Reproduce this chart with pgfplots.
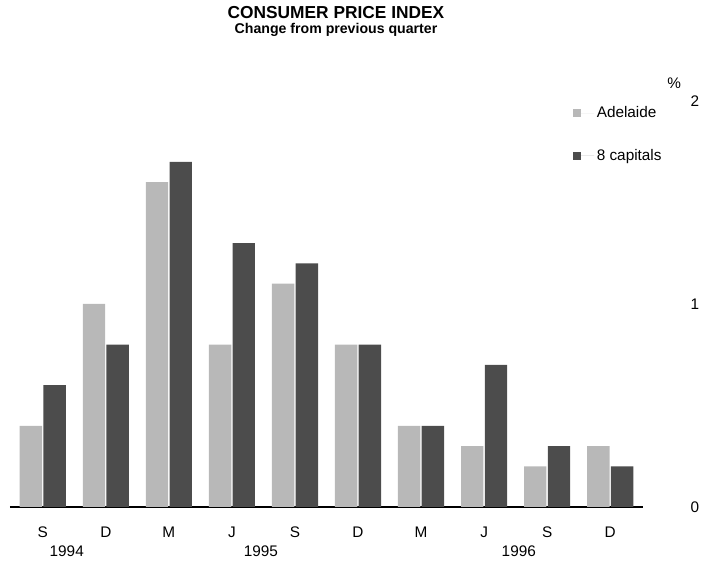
\documentclass[border=0pt]{standalone}
\usepackage{fontspec}
\setmainfont{Liberation Sans}
\usepackage{pgfplots}
\pgfplotsset{compat=1.18}
\definecolor{adel}{gray}{0.72}
\definecolor{caps}{gray}{0.30}
\begin{document}
\begin{tikzpicture}
\begin{axis}[
  scale only axis,
  width=474.75pt, height=304.5pt,
  xmin=-0.52, xmax=9.52, ymin=0, ymax=2,
  ybar=1pt, bar width=16.8pt,
  axis x line=bottom, axis y line*=right,
  y axis line style={draw=none},
  x axis line style={line width=1.2pt, -},
  major tick length=0pt,
  xtick={0,...,9},
  xticklabels={S,D,M,J,S,D,M,J,S,D},
  ytick={0,1,2},
  /pgf/number format/assume math mode=true,
  tick label style={font=\fontsize{11.5}{13}\selectfont},
  xticklabel style={yshift=-11.5pt},
  yticklabel style={anchor=center, xshift=39pt},
  clip=false,
  legend style={at={(rel axis cs:0.883,1.0)}, anchor=north west, draw=none, fill=none,
    font=\fontsize{11.5}{13}\selectfont, row sep=18pt},
  legend cell align=left,
  legend image code/.code={\fill[#1] (0pt,-3pt) rectangle (6pt,3pt); \path (0pt,0pt) -- (15.7pt,0pt);},
]
\addplot[fill=adel, draw=none] coordinates {(0,0.4) (1,1.0) (2,1.6) (3,0.8) (4,1.1) (5,0.8) (6,0.4) (7,0.3) (8,0.2) (9,0.3)};
\addplot[fill=caps, draw=none] coordinates {(0,0.6) (1,0.8) (2,1.7) (3,1.3) (4,1.2) (5,0.8) (6,0.4) (7,0.7) (8,0.3) (9,0.2)};
\legend{Adelaide, 8 capitals}
\path (rel axis cs:-0.0158,-0.1478) rectangle (rel axis cs:1.0964,1.2488);
\node[font=\bfseries\fontsize{13}{15}\selectfont] at (rel axis cs:0.515,1.219) {CONSUMER PRICE INDEX};
\node[font=\bfseries\fontsize{10.6}{13}\selectfont] at (rel axis cs:0.515,1.176) {Change from previous quarter};
\node[font=\fontsize{11.5}{13}\selectfont] at (axis cs:0.38,0) [yshift=-33pt] {1994};
\node[font=\fontsize{11.5}{13}\selectfont] at (axis cs:3.46,0) [yshift=-33pt] {1995};
\node[font=\fontsize{11.5}{13}\selectfont] at (axis cs:7.55,0) [yshift=-33pt] {1996};
\node[font=\fontsize{11.5}{13}\selectfont] at (rel axis cs:1,1) [xshift=23.5pt, yshift=13.5pt] {\%};
\end{axis}
\end{tikzpicture}
\end{document}
